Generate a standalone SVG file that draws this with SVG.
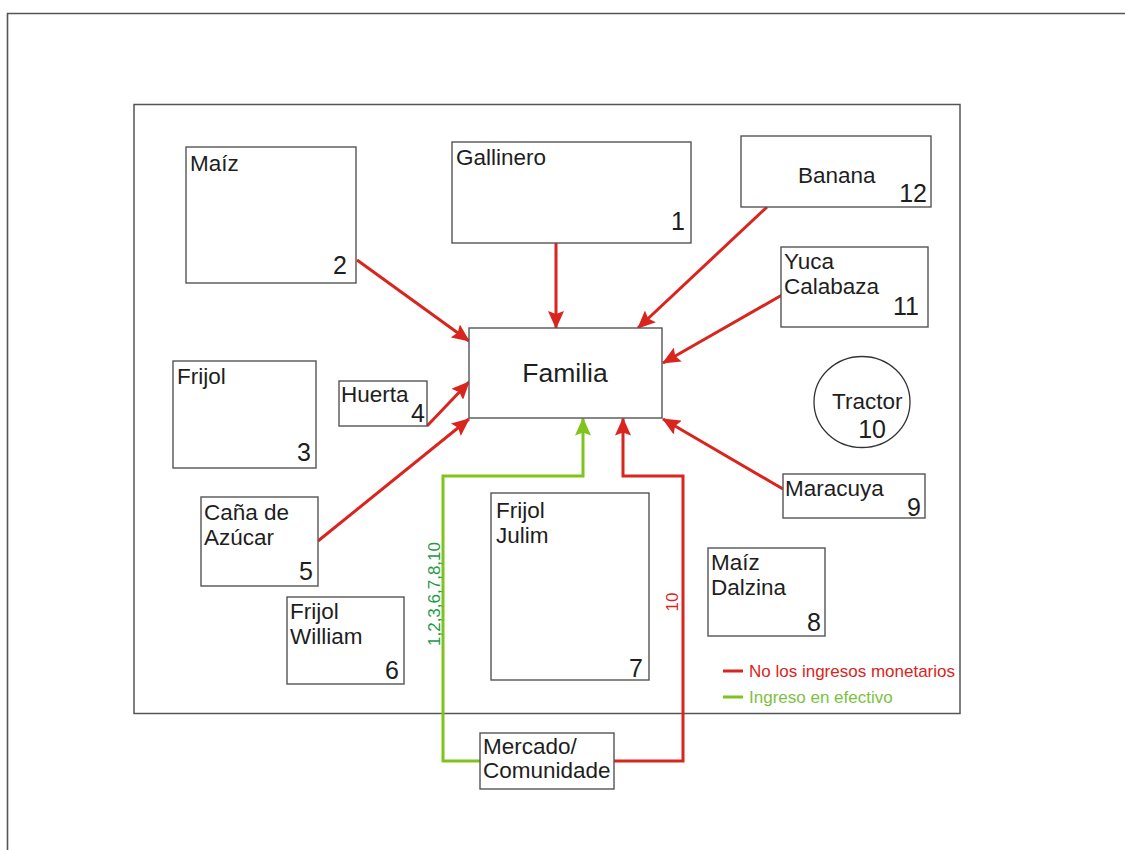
<svg xmlns="http://www.w3.org/2000/svg" width="1125" height="850" viewBox="0 0 1125 850">
<defs>
<style>
.box{fill:#fff;stroke:#555;stroke-width:1.4}
.t{font-family:"Liberation Sans",Arial,sans-serif;font-size:22.5px;fill:#1e1e1e}
.n{font-family:"Liberation Sans",Arial,sans-serif;font-size:25px;fill:#1e1e1e;text-anchor:end}
.red{fill:none;stroke:#d9251d;stroke-width:3}
.grn{fill:none;stroke:#7fc31c;stroke-width:3}
.lg{font-family:"Liberation Sans",Arial,sans-serif;font-size:17px}
</style>
<marker id="ar" viewBox="0 0 18 16" markerWidth="18" markerHeight="16" refX="17" refY="8" orient="auto" markerUnits="userSpaceOnUse">
<path d="M0,0 L18,8 L0,16 L3,8 z" fill="#d9251d"/>
</marker>
<marker id="ag" viewBox="0 0 18 16" markerWidth="18" markerHeight="16" refX="17" refY="8" orient="auto" markerUnits="userSpaceOnUse">
<path d="M0,0 L18,8 L0,16 L3,8 z" fill="#7fc31c"/>
</marker>
</defs>
<rect width="1125" height="850" fill="#fff"/>
<path d="M7.5,850 V13.5 H1125" fill="none" stroke="#555" stroke-width="1.6"/>
<rect x="134" y="104.5" width="826" height="609" fill="none" stroke="#555" stroke-width="1.5"/>

<g id="connectors">
<line class="red" x1="357" y1="260" x2="469" y2="341" marker-end="url(#ar)"/>
<line class="red" x1="556" y1="243" x2="556" y2="328" marker-end="url(#ar)"/>
<line class="red" x1="767" y1="207" x2="638" y2="328" marker-end="url(#ar)"/>
<line class="red" x1="782" y1="295" x2="663" y2="363" marker-end="url(#ar)"/>
<line class="red" x1="427" y1="426" x2="469" y2="382" marker-end="url(#ar)"/>
<line class="red" x1="318" y1="541" x2="469" y2="419" marker-end="url(#ar)"/>
<line class="red" x1="783" y1="489" x2="663" y2="419" marker-end="url(#ar)"/>
<path class="grn" d="M480,761 H443 V476 H583 V418.5" marker-end="url(#ag)"/>
<path class="red" d="M614,761 H683 V476 H623 V418.5" marker-end="url(#ar)"/>
<text class="lg" fill="#1f9a48" transform="translate(440,594) rotate(-90)" text-anchor="middle">1,2,3,6,7,8,10</text>
<text class="lg" fill="#d9251d" transform="translate(678,602) rotate(-90)" text-anchor="middle">10</text>
</g>

<g id="maiz"><rect class="box" x="186" y="147" width="170" height="136"/><text class="t" x="190" y="171">Maíz</text><text class="n" x="347" y="274">2</text></g>
<g id="gallinero"><rect class="box" x="452" y="142" width="239" height="101"/><text class="t" x="456" y="165">Gallinero</text><text class="n" x="685" y="230">1</text></g>
<g id="banana"><rect class="box" x="741" y="136" width="190" height="71"/><text class="t" x="798" y="183">Banana</text><text class="n" x="927" y="202">12</text></g>
<g id="yuca"><rect class="box" x="781" y="247" width="147" height="80"/><text class="t" x="784" y="269">Yuca</text><text class="t" x="784" y="294">Calabaza</text><text class="n" x="919" y="315">11</text></g>
<g id="familia"><rect class="box" x="469" y="328" width="193" height="90"/><text class="t" x="565" y="382" text-anchor="middle" style="font-size:26.5px">Familia</text></g>
<g id="huerta"><rect class="box" x="339" y="381" width="88" height="45"/><text class="t" x="341" y="402">Huerta</text><text class="n" x="425" y="422">4</text></g>
<g id="frijol"><rect class="box" x="173" y="361" width="143" height="107"/><text class="t" x="177" y="384">Frijol</text><text class="n" x="311" y="461">3</text></g>
<g id="cana"><rect class="box" x="201" y="497" width="117" height="89"/><text class="t" x="204" y="520">Caña de</text><text class="t" x="204" y="545">Azúcar</text><text class="n" x="313" y="580">5</text></g>
<g id="frijolwilliam"><rect class="box" x="287" y="597" width="117" height="87"/><text class="t" x="290" y="619">Frijol</text><text class="t" x="290" y="644">William</text><text class="n" x="399" y="679">6</text></g>
<g id="frijoljulim"><rect class="box" x="491" y="493" width="158" height="187"/><text class="t" x="496" y="518">Frijol</text><text class="t" x="496" y="543">Julim</text><text class="n" x="643" y="677">7</text></g>
<g id="mercado"><rect class="box" x="480" y="733" width="134" height="56"/><text class="t" x="483" y="754">Mercado/</text><text class="t" x="483" y="778">Comunidade</text></g>
<g id="maracuya"><rect class="box" x="783" y="474" width="142" height="44"/><text class="t" x="785" y="496">Maracuya</text><text class="n" x="921" y="516">9</text></g>
<g id="maizdalzina"><rect class="box" x="708" y="548" width="117" height="88"/><text class="t" x="711" y="570">Maíz</text><text class="t" x="711" y="595">Dalzina</text><text class="n" x="821" y="631">8</text></g>
<g id="tractor"><ellipse cx="862" cy="402" rx="48" ry="45.5" fill="#fff" stroke="#333" stroke-width="1.3"/><text class="t" x="832" y="409">Tractor</text><text class="n" x="886" y="438">10</text></g>

<g id="legend">
<line x1="723" y1="671" x2="743" y2="671" stroke="#d9251d" stroke-width="3"/>
<text class="lg" x="749" y="677" fill="#d9251d">No los ingresos monetarios</text>
<line x1="723" y1="697" x2="743" y2="697" stroke="#7fc31c" stroke-width="3"/>
<text class="lg" x="749" y="703" fill="#7dc142">Ingreso en efectivo</text>
</g>
</svg>
